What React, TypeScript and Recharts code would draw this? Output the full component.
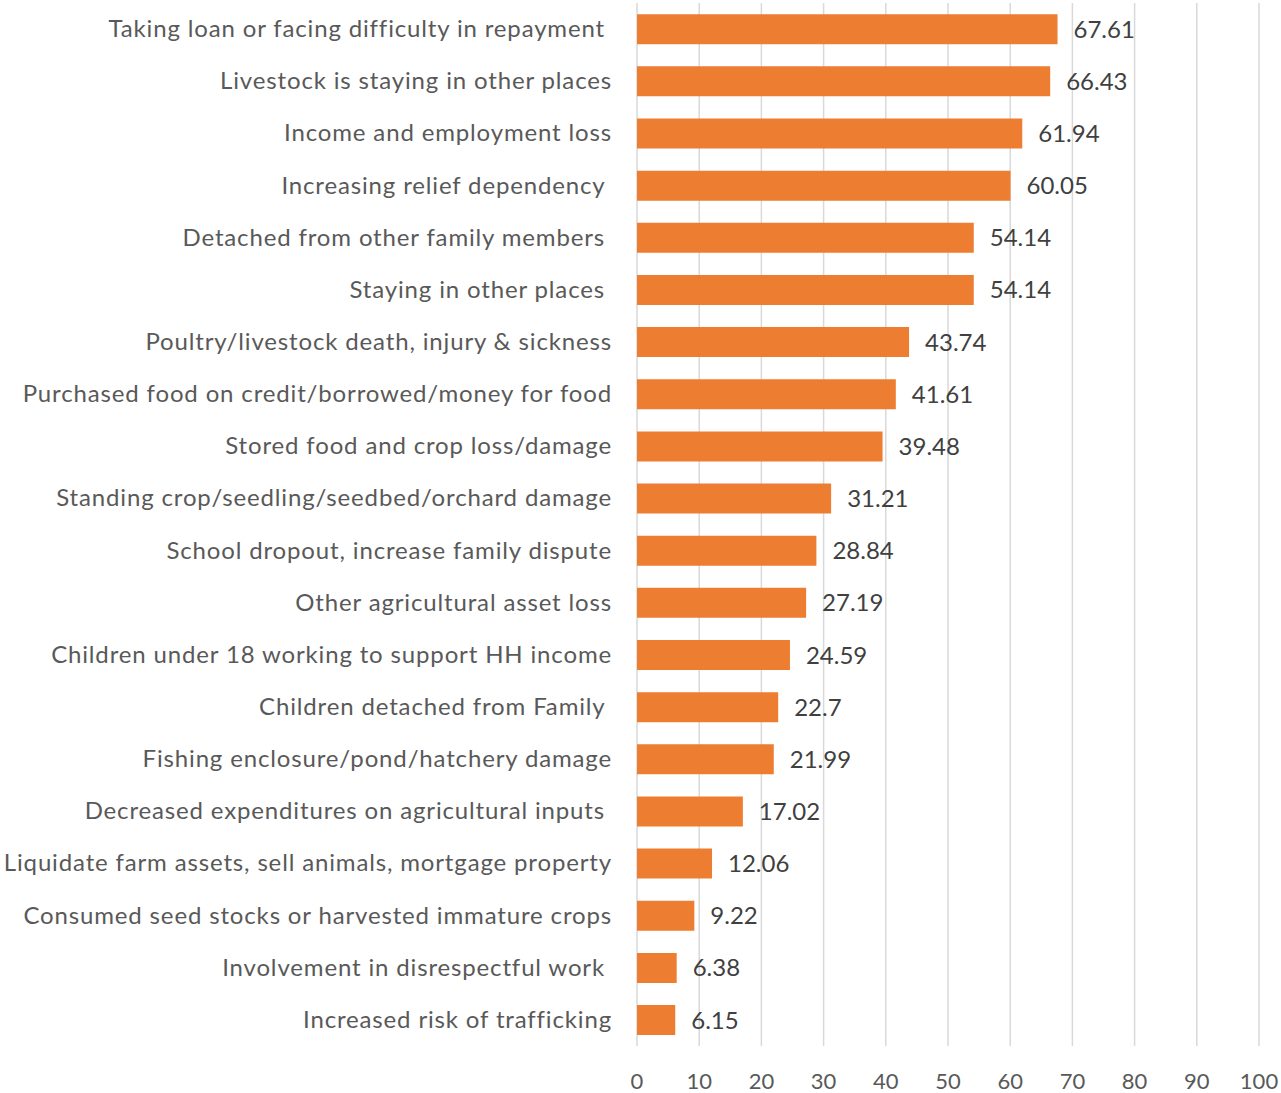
import React from 'react'
import { BarChart, Bar, XAxis, YAxis, CartesianGrid, LabelList } from 'recharts'

const categories = [
  'Taking loan or facing difficulty in repayment ',
  'Livestock is staying in other places',
  'Income and employment loss',
  'Increasing relief dependency ',
  'Detached from other family members ',
  'Staying in other places ',
  'Poultry/livestock death, injury & sickness',
  'Purchased food on credit/borrowed/money for food',
  'Stored food and crop loss/damage',
  'Standing crop/seedling/seedbed/orchard damage',
  'School dropout, increase family dispute',
  'Other agricultural asset loss',
  'Children under 18 working to support HH income',
  'Children detached from Family ',
  'Fishing enclosure/pond/hatchery damage',
  'Decreased expenditures on agricultural inputs ',
  'Liquidate farm assets, sell animals, mortgage property',
  'Consumed seed stocks or harvested immature crops',
  'Involvement in disrespectful work ',
  'Increased risk of trafficking',
]

const values = [
  67.61, 66.43, 61.94, 60.05, 54.14, 54.14, 43.74, 41.61, 39.48, 31.21,
  28.84, 27.19, 24.59, 22.7, 21.99, 17.02, 12.06, 9.22, 6.38, 6.15,
]

const xTicks = [0, 10, 20, 30, 40, 50, 60, 70, 80, 90, 100]

const data = categories.map((name, i) => ({ name, value: values[i] }))

const FONT = 'Lato, "Open Sans", sans-serif'

function CategoryTick(props: any) {
  const { x, y, payload } = props
  return (
    <text
      x={x}
      y={y - 1.5}
      textAnchor="end"
      dominantBaseline="central"
      fill="#595959"
      fontSize={24}
      fontFamily={FONT}
      letterSpacing={0.85}
      style={{ whiteSpace: 'pre' }}
    >
      {payload.value}
    </text>
  )
}

export default function App() {
  return (
    <div style={{ width: 1281, height: 1093, background: '#fff' }}>
      <style>{'body { margin: 0; }'}</style>
      <BarChart
        width={1281}
        height={1093}
        data={data}
        layout="vertical"
        margin={{ top: 3, right: 22, bottom: 0, left: 0 }}
        barCategoryGap="21.5%"
      >
        <CartesianGrid horizontal={false} stroke="#D9D9D9" strokeWidth={1.5} />
        <XAxis
          type="number"
          domain={[0, 100]}
          ticks={xTicks}
          axisLine={false}
          tickLine={false}
          tickSize={0}
          tickMargin={27}
          height={47}
          interval={0}
          tick={{ fill: '#595959', fontSize: 22, fontFamily: FONT }}
        />
        <YAxis
          type="category"
          dataKey="name"
          width={637}
          axisLine={false}
          tickLine={false}
          tickSize={0}
          tickMargin={25}
          interval={0}
          tick={<CategoryTick />}
        />
        <Bar dataKey="value" fill="#ED7D31" isAnimationActive={false}>
          <LabelList
            dataKey="value"
            position="right"
            offset={16}
            fill="#404040"
            fontSize={24}
            fontFamily={FONT}
          />
        </Bar>
      </BarChart>
    </div>
  )
}
